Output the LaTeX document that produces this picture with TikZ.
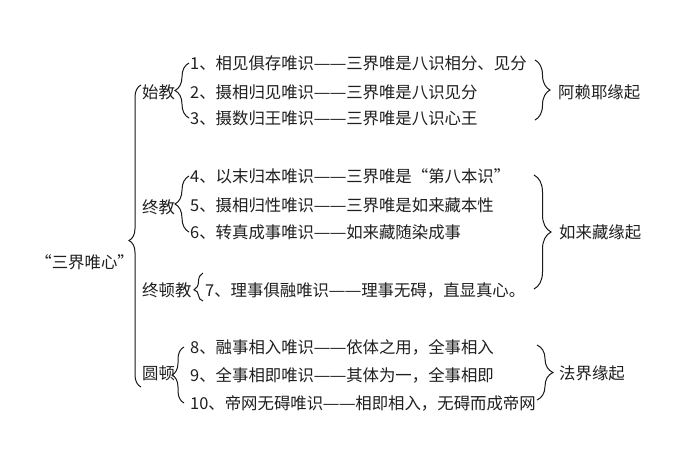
\documentclass[tikz,border=0pt]{standalone}
\usepackage{fontspec}
\usepackage{graphicx}
\setmainfont{Noto Sans CJK SC}
\usetikzlibrary{decorations.pathreplacing}
\newcommand\mydash{\makebox[0.98em]{\scalebox{1.16}[1]{—}}}
\newcommand\dashpair{\mydash\mydash}
\begin{document}
\begin{tikzpicture}[x=1pt,y=-1pt,
  txt/.style={font=\fontsize{16.4}{19}\selectfont, inner sep=0pt, anchor=west, text=black!88},
  br/.style={decorate, decoration={brace, amplitude=#1}, line width=1pt, draw=black!90},
  br/.default=12]
\useasboundingbox[fill=white] (0,0) rectangle (700,467);
% root and branches
\node[txt, anchor=east] (root) at (134,262) {“三界唯心”};
\node[txt] (a) at (142,92) {始教};
\node[txt] (b) at (142,207) {终教};
\node[txt] (c) at (142,290) {终顿教};
\node[txt] (d) at (142,373) {圆顿};
% items
\node[txt] (i1) at (190,63) {1、相见俱存唯识\dashpair 三界唯是八识相分、见分};
\node[txt] (i2) at (190,92) {2、摄相归见唯识\dashpair 三界唯是八识见分};
\node[txt] (i3) at (190,118) {3、摄数归王唯识\dashpair 三界唯是八识心王};
\node[txt] (i4) at (190,176) {4、以末归本唯识\dashpair 三界唯是“第八本识”};
\node[txt] (i5) at (190,205) {5、摄相归性唯识\dashpair 三界唯是如来藏本性};
\node[txt] (i6) at (190,232) {6、转真成事唯识\dashpair 如来藏随染成事};
\node[txt] (i7) at (205,290) {7、理事俱融唯识\dashpair 理事无碍，直显真心。};
\node[txt] (i8) at (190,347) {8、融事相入唯识\dashpair 依体之用，全事相入};
\node[txt] (i9) at (190,375) {9、全事相即唯识\dashpair 其体为一，全事相即};
\node[txt] (i10) at (190,403) {10、帝网无碍唯识\dashpair 相即相入，无碍而成帝网};
% right labels
\node[txt] (r1) at (558,92) {阿赖耶缘起};
\node[txt] (r2) at (559,232) {如来藏缘起};
\node[txt] (r3) at (559,373) {法界缘起};
% coordinates for brace ends
\coordinate (bigb) at (141,387);
\coordinate (bigt) at (141,85);
\coordinate (ct) at (203,273);
\coordinate (cb) at (203,301);
\coordinate (r1t) at (535,60);
\coordinate (r1b) at (535,120);
\coordinate (r2t) at (534,175);
\coordinate (r2b) at (534,289);
\coordinate (r3t) at (537,345);
\coordinate (r3b) at (537,400);
% braces
\draw[br=12, decoration={aspect=0.485}] (bigb) -- (bigt);
\draw[br=14] ([xshift=-1pt]i3.west) -- ([xshift=-1pt]i1.west);
\draw[br=14] ([xshift=-1pt]i6.west) -- ([xshift=-1pt]i4.west);
\draw[br=9, decoration={aspect=0.4}] (cb) -- (ct);
\draw[br=12] ([xshift=-6pt]i10.west) -- ([xshift=-6pt]i8.west);
\draw[br=15] (r1t) -- (r1b);
\draw[br=17] (r2t) -- (r2b);
\draw[br=16] (r3t) -- (r3b);
\end{tikzpicture}
\end{document}
